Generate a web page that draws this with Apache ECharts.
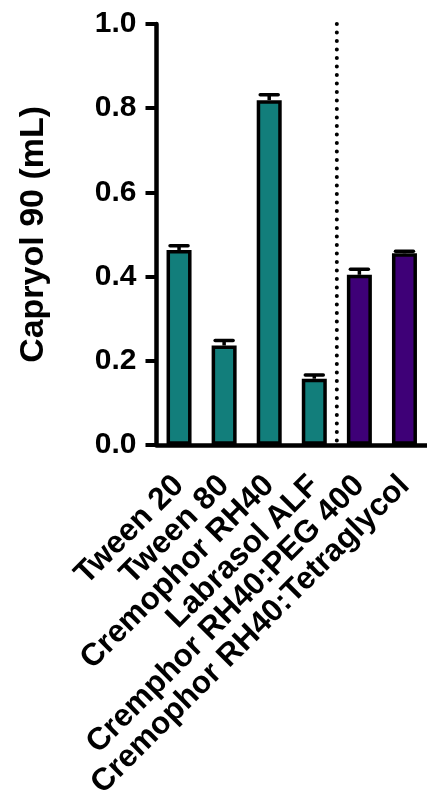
<!DOCTYPE html>
<html>
<head>
<meta charset="utf-8">
<script src="https://cdn.jsdelivr.net/npm/echarts@6/dist/echarts.min.js"></script>
<style>
html,body{margin:0;padding:0;background:#fff;}
#chart{width:427px;height:802px;}
</style>
</head>
<body>
<div id="chart"></div>
<script>
const categories = ['Tween 20', 'Tween 80', 'Cremophor RH40', 'Labrasol ALF', 'Cremphor RH40:PEG 400', 'Cremophor RH40:Tetraglycol'];
const means = [0.463, 0.236, 0.819, 0.157, 0.404, 0.455];
const errors = [0.010, 0.012, 0.013, 0.009, 0.013, 0.005];
const groupOf = [0, 0, 0, 0, 1, 1];
const groupColors = ['#127E7B', '#3E0077'];
const yTicks = [0, 0.2, 0.4, 0.6, 0.8, 1.0];
const separatorAfter = 3;
const yMin = 0, yMax = 1.0, yInterval = 0.2;

const FONT = '"Liberation Sans", Arial, Helvetica, sans-serif';

const chart = echarts.init(document.getElementById('chart'), null, {renderer: 'canvas'});

const barData = means.map((v, i) => ({
  value: v,
  itemStyle: {color: groupColors[groupOf[i]]}
}));

const errData = means.map((v, i) => [i, v, v + errors[i]]);

const option = {
  animation: false,
  backgroundColor: '#ffffff',
  grid: {left: 156.5, top: 24, width: 272, bottom: 355, containLabel: false},
  xAxis: {
    type: 'category',
    data: categories,
    axisLine: {lineStyle: {color: '#000', width: 4.5}},
    axisTick: {alignWithLabel: true, length: 11, lineStyle: {color: '#000', width: 5}},
    axisLabel: {
      rotate: 45, interval: 0, margin: 36,
      fontFamily: FONT, fontWeight: 'bold', fontSize: 31.5, color: '#000'
    },
    splitLine: {show: false}
  },
  yAxis: {
    type: 'value',
    min: yMin, max: yMax, interval: yInterval,
    name: 'Capryol 90 (mL)',
    nameLocation: 'middle',
    nameRotate: 90,
    nameGap: 106,
    nameTextStyle: {fontFamily: FONT, fontWeight: 'bold', fontSize: 34, color: '#000'},
    axisLine: {show: true, lineStyle: {color: '#000', width: 4.5}},
    axisTick: {show: true, length: 11, lineStyle: {color: '#000', width: 4}},
    axisLabel: {
      margin: 20,
      fontFamily: FONT, fontWeight: 'bold', fontSize: 30, color: '#000',
      formatter: v => yTicks.includes(+v.toFixed(1)) ? v.toFixed(1) : ''
    },
    splitLine: {show: false}
  },
  series: [
    {
      type: 'bar',
      data: barData,
      barWidth: 25,
      itemStyle: {borderColor: '#000', borderWidth: 3.5},
      z: 2
    },
    {
      type: 'custom',
      data: errData,
      z: 3,
      renderItem: function (params, api) {
        const i = api.value(0);
        const top = api.coord([i, api.value(2)]);
        const base = api.coord([i, api.value(1)]);
        const capHalf = 9;
        return {
          type: 'group',
          children: [
            {type: 'line', shape: {x1: base[0], y1: base[1], x2: top[0], y2: top[1]},
             style: {stroke: '#000', lineWidth: 3.5}},
            {type: 'line', shape: {x1: top[0] - capHalf, y1: top[1], x2: top[0] + capHalf, y2: top[1]},
             style: {stroke: '#000', lineWidth: 3.5, lineCap: 'round'}}
          ]
        };
      }
    },
    {
      type: 'custom',
      data: [[separatorAfter, yMin, yMax]],
      z: 1,
      renderItem: function (params, api) {
        const i = api.value(0);
        const half = api.size([1, 0])[0] / 2;
        const p0 = api.coord([i, api.value(1)]);
        const p1 = api.coord([i, api.value(2)]);
        const x = p0[0] + half;
        return {
          type: 'line',
          shape: {x1: x, y1: p1[1], x2: x, y2: p0[1]},
          style: {stroke: '#000', lineWidth: 4, lineDash: [0, 8.5], lineCap: 'round'}
        };
      }
    }
  ]
};
chart.setOption(option);
</script>
</body>
</html>
